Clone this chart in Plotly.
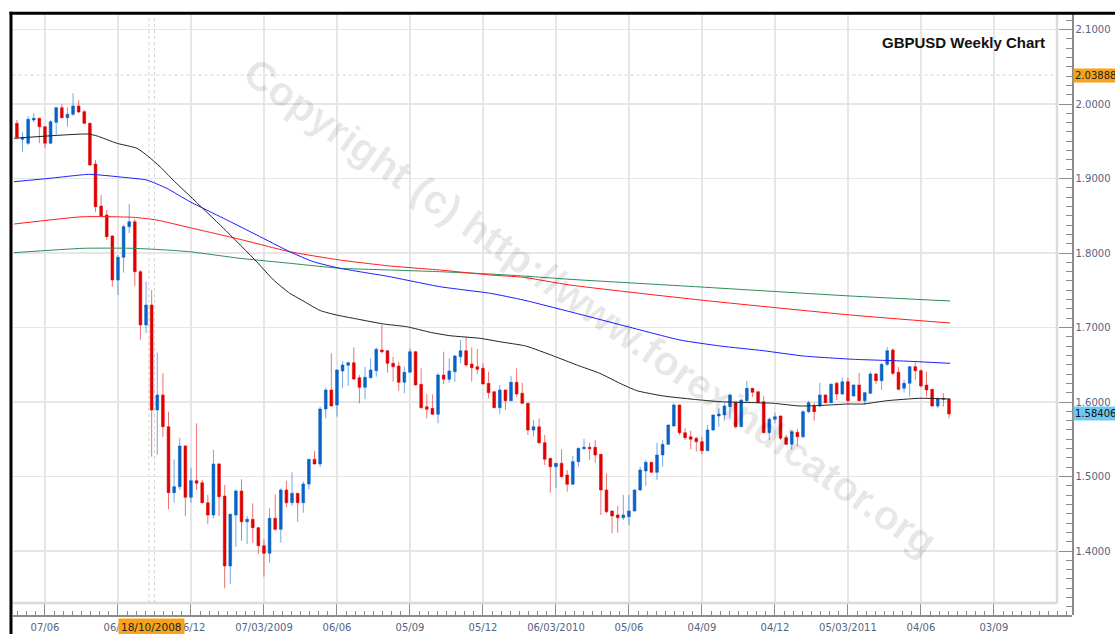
import plotly.graph_objects as go

# ---------------- data ----------------
# weekly candles, index 0 = week of 03/05/2008 ... index 166
OPEN = [1.9741, 1.9526, 1.9473, 1.9785, 1.9808, 1.9695, 1.9473, 1.9754, 1.9950, 1.9816,
        1.9862, 1.9973, 1.9897, 1.9741, 1.9195, 1.8631, 1.8510, 1.8228, 1.7638, 1.7942,
        1.8353, 1.8420, 1.7749, 1.7034, 1.7302, 1.5893, 1.6094, 1.5668, 1.4783, 1.4863,
        1.5409, 1.4721, 1.4944, 1.4917, 1.4648, 1.4483, 1.5168, 1.4738, 1.3799, 1.4483,
        1.4805, 1.4393, 1.4425, 1.4313, 1.4071, 1.3969, 1.4439, 1.4291, 1.4819, 1.4648,
        1.4774, 1.4648, 1.4899, 1.5231, 1.5168, 1.5906, 1.6161, 1.5960, 1.6416, 1.6493,
        1.6528, 1.6326, 1.6197, 1.6326, 1.6420, 1.6698, 1.6689, 1.6519, 1.6483, 1.6264,
        1.6399, 1.6675, 1.6238, 1.5937, 1.5915, 1.5835, 1.6362, 1.6305, 1.6407, 1.6608,
        1.6689, 1.6510, 1.6474, 1.6452, 1.6251, 1.6138, 1.5923, 1.6161, 1.6017, 1.6264,
        1.6117, 1.5983, 1.5624, 1.5668, 1.5454, 1.5244, 1.5132, 1.5177, 1.5020, 1.4895,
        1.5199, 1.5373, 1.5392, 1.5392, 1.5298, 1.4819, 1.4537, 1.4483, 1.4447, 1.4460,
        1.4537, 1.4819, 1.5074, 1.5191, 1.5056, 1.5289, 1.5432, 1.5678, 1.5960, 1.5588,
        1.5534, 1.5513, 1.5467, 1.5346, 1.5624, 1.5812, 1.5826, 1.5937, 1.5991, 1.5668,
        1.6017, 1.6184, 1.6138, 1.6004, 1.5588, 1.5768, 1.5812, 1.5521, 1.5432, 1.5593,
        1.5534, 1.5870, 1.5946, 1.5946, 1.6094, 1.5991, 1.6251, 1.6107, 1.6272, 1.6081,
        1.6228, 1.6017, 1.6117, 1.6376, 1.6286, 1.6506, 1.6698, 1.6399, 1.6184, 1.6251,
        1.6474, 1.6420, 1.6228, 1.6170, 1.5946, 1.6050, 1.6036]
HIGH = [1.9785, 1.9628, 1.9839, 1.9879, 1.9816, 1.9705, 1.9785, 1.9964, 1.9996, 1.9956,
        2.0144, 2.0054, 1.9919, 1.9749, 1.9248, 1.8779, 1.8577, 1.8242, 1.7973, 1.8376,
        1.8658, 1.8456, 1.7772, 1.7615, 1.7503, 1.6662, 1.6385, 1.5870, 1.5231, 1.5521,
        1.5423, 1.5110, 1.5714, 1.4953, 1.4752, 1.5356, 1.5181, 1.4886, 1.4503, 1.4828,
        1.4962, 1.4470, 1.4640, 1.4322, 1.4157, 1.4573, 1.4761, 1.4842, 1.4944, 1.5056,
        1.4779, 1.4930, 1.5235, 1.5342, 1.5937, 1.6192, 1.6654, 1.6436, 1.6550, 1.6541,
        1.6734, 1.6362, 1.6474, 1.6587, 1.6729, 1.7034, 1.6698, 1.6608, 1.6541, 1.6474,
        1.6721, 1.6685, 1.6452, 1.6107, 1.6103, 1.6393, 1.6675, 1.6587, 1.6631, 1.6832,
        1.6868, 1.6734, 1.6711, 1.6519, 1.6407, 1.6148, 1.6228, 1.6168, 1.6349, 1.6452,
        1.6259, 1.5987, 1.5758, 1.5781, 1.5557, 1.5248, 1.5181, 1.5365, 1.5087, 1.5275,
        1.5387, 1.5503, 1.5454, 1.5490, 1.5302, 1.5043, 1.4544, 1.4604, 1.4752, 1.4752,
        1.4826, 1.5132, 1.5221, 1.5195, 1.5454, 1.5490, 1.5698, 1.5983, 1.5966, 1.5647,
        1.5615, 1.5534, 1.5534, 1.5691, 1.5832, 1.5915, 1.5983, 1.6117, 1.6000, 1.6034,
        1.6286, 1.6188, 1.6141, 1.6081, 1.5795, 1.5856, 1.5819, 1.5557, 1.5624, 1.5638,
        1.5893, 1.6017, 1.5991, 1.6259, 1.6101, 1.6251, 1.6272, 1.6326, 1.6326, 1.6235,
        1.6393, 1.6138, 1.6407, 1.6393, 1.6519, 1.6734, 1.6721, 1.6466, 1.6295, 1.6483,
        1.6528, 1.6439, 1.6407, 1.6175, 1.6054, 1.6117, 1.6050]
LOW = [1.9526, 1.9360, 1.9450, 1.9758, 1.9473, 1.9413, 1.9463, 1.9584, 1.9808, 1.9695,
       1.9839, 1.9875, 1.9728, 1.9168, 1.8550, 1.8483, 1.8175, 1.7548, 1.7436, 1.7736,
       1.8264, 1.7557, 1.6832, 1.6922, 1.5266, 1.5289, 1.5534, 1.4560, 1.4648, 1.4819,
       1.4470, 1.4648, 1.4819, 1.4638, 1.4358, 1.4439, 1.4470, 1.3499, 1.3557, 1.4058,
       1.4138, 1.4094, 1.4111, 1.3960, 1.3655, 1.3843, 1.4272, 1.4111, 1.4587, 1.4604,
       1.4393, 1.4514, 1.4828, 1.5161, 1.5123, 1.5781, 1.5937, 1.5803, 1.6184, 1.6215,
       1.6295, 1.5983, 1.6036, 1.6318, 1.6340, 1.6654, 1.6393, 1.6272, 1.6152, 1.6117,
       1.6393, 1.6221, 1.5915, 1.5781, 1.5826, 1.5714, 1.6238, 1.6259, 1.6272, 1.6519,
       1.6474, 1.6272, 1.6376, 1.6235, 1.6050, 1.5919, 1.5839, 1.5893, 1.6013, 1.6071,
       1.5973, 1.5557, 1.5534, 1.5436, 1.5154, 1.4783, 1.4842, 1.4989, 1.4796, 1.4893,
       1.5132, 1.5356, 1.5221, 1.5185, 1.4483, 1.4506, 1.4238, 1.4246, 1.4416, 1.4349,
       1.4530, 1.4809, 1.4876, 1.5051, 1.4953, 1.5132, 1.5423, 1.5668, 1.5557, 1.5490,
       1.5365, 1.5333, 1.5298, 1.5342, 1.5615, 1.5668, 1.5749, 1.5768, 1.5647, 1.5664,
       1.6004, 1.6071, 1.5987, 1.5580, 1.5490, 1.5714, 1.5490, 1.5423, 1.5356, 1.5409,
       1.5513, 1.5848, 1.5749, 1.5929, 1.5983, 1.5983, 1.6027, 1.6094, 1.5973, 1.6071,
       1.6013, 1.5960, 1.6107, 1.6242, 1.6161, 1.6483, 1.6362, 1.6161, 1.6125, 1.6071,
       1.6295, 1.6197, 1.6071, 1.5937, 1.5915, 1.5937, 1.5781]
CLOSE = [1.9553, 1.9553, 1.9795, 1.9808, 1.9695, 1.9473, 1.9762, 1.9950, 1.9816, 1.9862,
         1.9973, 1.9893, 1.9741, 1.9181, 1.8622, 1.8497, 1.8219, 1.7638, 1.7942, 1.8353,
         1.8420, 1.7749, 1.7034, 1.7302, 1.5893, 1.6094, 1.5668, 1.4783, 1.4863, 1.5409,
         1.4721, 1.4944, 1.4909, 1.4648, 1.4483, 1.5168, 1.4729, 1.3799, 1.4493, 1.4805,
         1.4393, 1.4425, 1.4313, 1.4071, 1.3969, 1.4439, 1.4291, 1.4819, 1.4648, 1.4774,
         1.4648, 1.4899, 1.5231, 1.5168, 1.5906, 1.6161, 1.5946, 1.6430, 1.6497, 1.6528,
         1.6309, 1.6197, 1.6332, 1.6430, 1.6707, 1.6675, 1.6519, 1.6474, 1.6264, 1.6399,
         1.6675, 1.6228, 1.5923, 1.5902, 1.5835, 1.6362, 1.6305, 1.6416, 1.6617, 1.6689,
         1.6497, 1.6460, 1.6439, 1.6242, 1.6125, 1.5923, 1.6161, 1.6017, 1.6264, 1.6107,
         1.5983, 1.5624, 1.5668, 1.5454, 1.5231, 1.5132, 1.5177, 1.4997, 1.4895, 1.5199,
         1.5379, 1.5392, 1.5373, 1.5289, 1.4819, 1.4527, 1.4470, 1.4447, 1.4483, 1.4537,
         1.4819, 1.5087, 1.5191, 1.5056, 1.5289, 1.5432, 1.5691, 1.5960, 1.5588, 1.5521,
         1.5499, 1.5467, 1.5346, 1.5624, 1.5826, 1.5839, 1.5946, 1.6094, 1.5668, 1.6027,
         1.6184, 1.6130, 1.5991, 1.5588, 1.5768, 1.5803, 1.5513, 1.5432, 1.5601, 1.5534,
         1.5870, 1.5991, 1.5870, 1.6094, 1.5991, 1.6238, 1.6107, 1.6272, 1.6017, 1.6228,
         1.6017, 1.6125, 1.6376, 1.6286, 1.6506, 1.6689, 1.6385, 1.6170, 1.6251, 1.6474,
         1.6420, 1.6215, 1.6161, 1.5946, 1.6050, 1.6036, 1.58406]
WEEK = list(range(len(CLOSE)))

# moving averages, read as (week index, price) points
MA_BLACK_W = [-0.5, 12.7, 14.3, 17.8, 21.4, 23.3, 25.5, 27.8, 30.8, 36.8, 42.7, 45.7, 48.6,
              50.7, 54.0, 56.9, 60.5, 65.3, 69.4, 73.6, 77.1, 82.5, 86.0, 90.6, 95.6, 99.7,
              103.8, 107.4, 110.4, 115.1, 120.5, 125.2, 131.3, 134.7, 139.5, 144.8, 147.8,
              150.7, 154.9, 160.8, 166.2]
MA_BLACK_P = [1.9540, 1.9597, 1.9570, 1.9473, 1.9405, 1.9302, 1.9158, 1.8980, 1.8765, 1.8332,
              1.7883, 1.7638, 1.7459, 1.7369, 1.7228, 1.7168, 1.7115, 1.7047, 1.7011, 1.6936,
              1.6890, 1.6855, 1.6809, 1.6752, 1.6617, 1.6497, 1.6385, 1.6251, 1.6152, 1.6081,
              1.6036, 1.6004, 1.5991, 1.5983, 1.5946, 1.5960, 1.5973, 1.5973, 1.6017, 1.6050,
              1.6040]
MA_BLUE_W = [-0.5, 5.9, 12.7, 14.8, 19.6, 23.1, 26.7, 30.8, 36.8, 42.7, 48.6, 52.8, 57.5,
             66.4, 75.3, 84.3, 90.2, 98.5, 108.3, 118.1, 125.2, 132.9, 140.1, 149.0, 157.9,
             166.2]
MA_BLUE_P = [1.8957, 1.9003, 1.9056, 1.9047, 1.9011, 1.8980, 1.8868, 1.8689, 1.8466, 1.8242,
             1.8017, 1.7883, 1.7795, 1.7682, 1.7548, 1.7459, 1.7369, 1.7212, 1.7020, 1.6832,
             1.6752, 1.6689, 1.6617, 1.6573, 1.6550, 1.6519]
MA_RED_W = [-0.5, 11.8, 20.7, 24.9, 30.8, 39.7, 48.6, 57.5, 66.4, 75.3, 84.3, 90.2, 98.5,
            121.7, 148.4, 166.2]
MA_RED_P = [1.8389, 1.8487, 1.8479, 1.8443, 1.8340, 1.8184, 1.8017, 1.7906, 1.7826, 1.7772,
            1.7705, 1.7674, 1.7570, 1.7369, 1.7168, 1.7060]
MA_GREEN_W = [-0.5, 11.8, 20.7, 26.7, 30.8, 39.7, 48.6, 57.5, 66.4, 75.3, 84.3, 90.2, 98.5,
              121.7, 148.4, 166.2]
MA_GREEN_P = [1.8004, 1.8063, 1.8063, 1.8040, 1.8017, 1.7929, 1.7862, 1.7795, 1.7772, 1.7749,
              1.7718, 1.7691, 1.7647, 1.7544, 1.7423, 1.7356]

TICK_WEEKS = [5, 18, 31, 44, 57, 70, 83, 96, 109, 122, 135, 148, 161, 174]
TICK_LABELS = ["07/06", "06/09", "06/12", "07/03/2009", "06/06", "05/09", "05/12",
               "06/03/2010", "05/06", "04/09", "04/12", "05/03/2011", "04/06", "03/09"]

CROSS_WEEK = 24
CROSS_DATE = "18/10/2008"
CROSS_PRICE = 2.03888
LAST_PRICE = 1.58406
TITLE = "GBPUSD Weekly Chart"
WATERMARK = "Copyright (c) http://www.forexindicator.org"

# ---------------- layout geometry (pixels of the 1115x634 page) ----------------
W, H = 1115, 634
PLOT_L, PLOT_R, PLOT_T, PLOT_B = 12.5, 1057.0, 15.0, 603.0
AXIS_X, AXIS_Y = 1072.0, 615.0
X0_PX, PX_PER_WEEK = 16.9, 5.615          # week 0 position / spacing
Y16_PX, PX_PER_UNIT = 402.0, 745.0         # 1.6000 position / px per 1.0 price


def wk(px):
    return (px - X0_PX) / PX_PER_WEEK


def pr(py):
    return 1.6 + (Y16_PX - py) / PX_PER_UNIT


def fx(px):
    return px / W


def fy(py):
    return 1 - py / H


LABEL_FONT = dict(family="DejaVu Sans", size=10, color="#56647f")
AXIS_COLOR = "#8c8c8c"
GRID_COLOR = "#e6e6e6"

fig = go.Figure()
fig.add_trace(go.Candlestick(
    x=WEEK, open=OPEN, high=HIGH, low=LOW, close=CLOSE,
    increasing=dict(line=dict(color="rgba(0,96,200,0.55)", width=1), fillcolor="#0a64c8"),
    decreasing=dict(line=dict(color="rgba(225,0,0,0.55)", width=1), fillcolor="#e00000"),
    whiskerwidth=0, hoverinfo="skip", showlegend=False))

for w, p, c in [(MA_GREEN_W, MA_GREEN_P, "#2e8b57"), (MA_RED_W, MA_RED_P, "#ff1a1a"),
                (MA_BLUE_W, MA_BLUE_P, "#1a1aff"), (MA_BLACK_W, MA_BLACK_P, "#222222")]:
    fig.add_trace(go.Scatter(x=w, y=p, mode="lines",
                             line=dict(color=c, width=1, shape="spline", smoothing=0.5),
                             hoverinfo="skip", showlegend=False))

# dummy trace to create the outer axes subplot
fig.add_trace(go.Scatter(x=[None], y=[None], xaxis="x2", yaxis="y2", mode="lines",
                         hoverinfo="skip", showlegend=False))

fig.update_layout(
    width=W, height=H, autosize=False,
    margin=dict(l=0, r=0, t=0, b=0, pad=0),
    paper_bgcolor="white", plot_bgcolor="rgba(0,0,0,0)",
    showlegend=False, boxgap=0.3,
    xaxis=dict(domain=[fx(PLOT_L), fx(PLOT_R)], range=[wk(PLOT_L), wk(PLOT_R)],
               tickmode="array", tickvals=TICK_WEEKS, showticklabels=False, ticks="",
               showgrid=True, gridcolor=GRID_COLOR, gridwidth=1.5, zeroline=False,
               showline=False, rangeslider=dict(visible=False), fixedrange=True),
    yaxis=dict(domain=[fy(PLOT_B), fy(PLOT_T)], range=[pr(PLOT_B), pr(PLOT_T)],
               tickmode="linear", tick0=1.4, dtick=0.1, showticklabels=False, ticks="",
               showgrid=True, gridcolor=GRID_COLOR, gridwidth=1.5, zeroline=False,
               showline=False, fixedrange=True),
    xaxis2=dict(domain=[fx(PLOT_L), fx(AXIS_X)], range=[wk(PLOT_L), wk(AXIS_X)],
                anchor="free", position=fy(AXIS_Y),
                tickmode="array", tickvals=TICK_WEEKS, ticktext=TICK_LABELS,
                ticks="inside", ticklen=11, tickwidth=1, tickcolor=AXIS_COLOR,
                showline=True, linecolor=AXIS_COLOR, linewidth=1.5,
                showgrid=False, zeroline=False, tickfont=LABEL_FONT, ticklabelstandoff=2,
                minor=dict(ticks="inside", ticklen=4, tickwidth=1, tickcolor=AXIS_COLOR,
                           tickmode="linear", tick0=5, dtick=13 / 8, showgrid=False),
                fixedrange=True),
    yaxis2=dict(domain=[fy(AXIS_Y), fy(14)], range=[pr(AXIS_Y), pr(14)],
                anchor="free", position=fx(AXIS_X), side="right",
                tickmode="linear", tick0=1.4, dtick=0.1, tickformat=".4f",
                ticks="inside", ticklen=13, tickwidth=1, tickcolor=AXIS_COLOR,
                showline=True, linecolor=AXIS_COLOR, linewidth=1.5,
                showgrid=False, zeroline=False, tickfont=LABEL_FONT,
                minor=dict(ticks="inside", ticklen=6, tickwidth=1, tickcolor=AXIS_COLOR,
                           tickmode="linear", tick0=1.4, dtick=0.0125, showgrid=False),
                fixedrange=True),
)

shapes = [
    # light inner border (right, bottom)
    dict(type="line", xref="paper", yref="paper", x0=fx(PLOT_R), x1=fx(PLOT_R),
         y0=fy(PLOT_B), y1=fy(PLOT_T), line=dict(color="#d6dbe1", width=2.5)),
    dict(type="line", xref="paper", yref="paper", x0=fx(PLOT_L), x1=fx(PLOT_R),
         y0=fy(PLOT_B), y1=fy(PLOT_B), line=dict(color="#d6dbe1", width=2.5)),
    # crosshair
    dict(type="line", xref="x", yref="paper", x0=CROSS_WEEK - 0.5, x1=CROSS_WEEK - 0.5,
         y0=fy(PLOT_B), y1=fy(PLOT_T), line=dict(color="#d0d0d0", width=1, dash="3px,3px"),
         layer="below"),
    dict(type="line", xref="x", yref="paper", x0=CROSS_WEEK + 0.5, x1=CROSS_WEEK + 0.5,
         y0=fy(PLOT_B), y1=fy(PLOT_T), line=dict(color="#d0d0d0", width=1, dash="3px,3px"),
         layer="below"),
    dict(type="line", xref="paper", yref="y", x0=fx(PLOT_L), x1=fx(PLOT_R),
         y0=CROSS_PRICE, y1=CROSS_PRICE, line=dict(color="#d0d0d0", width=1, dash="3px,3px"),
         layer="below"),
    # black frame
    dict(type="line", xref="paper", yref="paper", x0=fx(9.5), x1=1, y0=fy(13.3), y1=fy(13.3),
         line=dict(color="black", width=3)),
    dict(type="line", xref="paper", yref="paper", x0=fx(11), x1=fx(11), y0=0, y1=fy(11.8),
         line=dict(color="black", width=3)),
]
fig.update_layout(shapes=shapes)

annotations = [
    dict(text=WATERMARK, xref="paper", yref="paper", x=fx(590), y=fy(307),
         xanchor="center", yanchor="middle", showarrow=False, textangle=35,
         font=dict(family="Liberation Sans", size=41, color="rgba(0,0,0,0.09)", weight="bold")),
    dict(text=TITLE, xref="paper", yref="paper", x=fx(1047), y=fy(42),
         xanchor="right", yanchor="middle", showarrow=False,
         font=dict(family="Liberation Sans", size=15, color="#111111", weight="bold")),
    dict(text=f"{CROSS_PRICE:.5f}", xref="paper", yref="y2", x=fx(AXIS_X + 0.5), y=CROSS_PRICE,
         xanchor="left", yanchor="middle", showarrow=False, bgcolor="#f7a21b", borderpad=1,
         font=dict(family="DejaVu Sans", size=10, color="#222222")),
    dict(text=f"{LAST_PRICE:.5f}", xref="paper", yref="y2", x=fx(AXIS_X + 0.5), y=LAST_PRICE,
         xanchor="left", yanchor="middle", showarrow=False, bgcolor="#6fc8f2", borderpad=1,
         font=dict(family="DejaVu Sans", size=10, color="#111111")),
    dict(text=CROSS_DATE, xref="x2", yref="paper", x=CROSS_WEEK, y=fy(627),
         xanchor="center", yanchor="middle", showarrow=False, bgcolor="#f7a21b", borderpad=2,
         font=dict(family="DejaVu Sans", size=10.5, color="#222222")),
]
fig.update_layout(annotations=annotations)

fig.write_html("out.html", config=dict(displayModeBar=False, staticPlot=True),
               post_script="document.body.style.margin='0';")
